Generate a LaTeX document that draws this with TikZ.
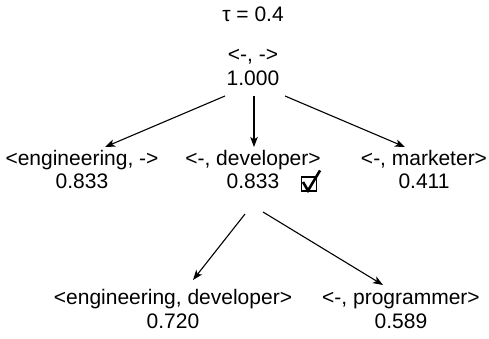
\documentclass[tikz,border=0pt]{standalone}
\usepackage{fontspec}
\setmainfont{Liberation Sans}
\usetikzlibrary{arrows.meta}
\begin{document}
\begin{tikzpicture}[x=1pt,y=-1pt,
  txt/.style={font=\fontsize{21}{25}\selectfont, inner sep=0pt, anchor=base},
  arr/.style={line width=1.1pt, -{Stealth[length=10pt,width=7.5pt,inset=2.5pt]}},
  tick/.style={line width=2.6pt, line cap=butt, line join=miter}
]
\useasboundingbox (0,0) rectangle (489,339);

% threshold
\node[txt] (tau) at (253,22) {τ = 0.4};

% root
\node[txt] (rootl) at (253,62) {<-, ->};
\node[txt] (roots) at (253,86) {1.000};

% second level
\node[txt] (engl) at (82,165) {<engineering, ->};
\node[txt] (engs) at (82,188) {0.833};
\node[txt] (devl) at (253,165) {<-, developer>};
\node[txt] (devs) at (253,188) {0.833};
\node[txt] (mktl) at (424,165) {<-, marketer>};
\node[txt] (mkts) at (424,188) {0.411};

% third level
\node[txt] (edl) at (173,304) {<engineering, developer>};
\node[txt] (eds) at (173,328) {0.720};
\node[txt] (prgl) at (401,304) {<-, programmer>};
\node[txt] (prgs) at (401,328) {0.589};

% selected-candidate checkbox
\node[draw, line width=1.1pt, minimum width=15pt, minimum height=14pt, inner sep=0pt]
  (chk) at (309,184) {};
\draw[tick] ([xshift=-6pt,yshift=2pt]chk.center) -- ([xshift=-1pt,yshift=1pt]chk.south)
  -- ([xshift=3pt,yshift=6pt]chk.north east);

% edges from the root
\draw[arr] ([xshift=-28pt,yshift=-10pt]roots.base) -- ([xshift=23pt,yshift=18pt]engl.base);
\draw[arr] ([xshift=1pt,yshift=-10pt]roots.base) -- ([xshift=1pt,yshift=18pt]devl.base);
\draw[arr] ([xshift=32pt,yshift=-10pt]roots.base) -- ([xshift=-19pt,yshift=18pt]mktl.base);

% edges from the selected node
\draw[arr] ([xshift=-8pt,yshift=-26pt]devs.base) -- ([xshift=20pt,yshift=24pt]edl.base);
\draw[arr] ([xshift=10pt,yshift=-24pt]devs.base) -- ([xshift=-18pt,yshift=19pt]prgl.base);
\end{tikzpicture}
\end{document}
